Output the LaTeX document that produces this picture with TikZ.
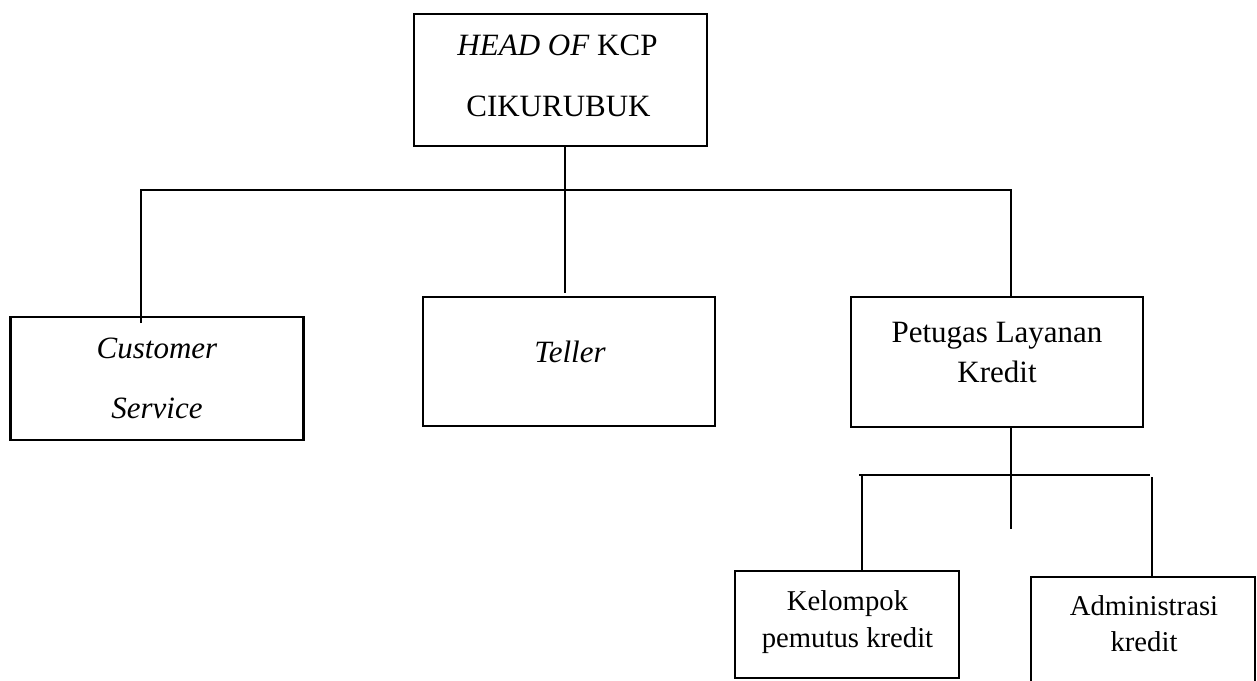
\documentclass[tikz,border=0pt]{standalone}
\usepackage{fontspec}
\setmainfont{Liberation Serif}
\begin{document}
\begin{tikzpicture}[x=1pt,y=-1pt,
  box/.style={draw, rectangle, line width=2.2pt, inner sep=0pt},
  conn/.style={line width=2.2pt},
  bigtxt/.style={anchor=base, inner sep=0pt, font=\fontsize{31}{37}\selectfont},
  smalltxt/.style={anchor=base, inner sep=0pt, font=\fontsize{28.7}{34}\selectfont}]
\useasboundingbox (0,0) rectangle (1257,680);

% boxes
\node[box, minimum width=293pt, minimum height=132pt] (head) at (560.5,80) {};
\node[box, minimum width=293pt, minimum height=123pt] (cs) at (157,378.5) {};
\node[box, minimum width=292pt, minimum height=129pt] (teller) at (569,361.5) {};
\node[box, minimum width=292pt, minimum height=130pt] (petugas) at (997,362) {};
\node[box, minimum width=224pt, minimum height=107pt] (kel) at (847,624.5) {};
\node[box, minimum width=224pt, minimum height=123pt] (admin) at (1143,638.5) {};

% texts
\node[bigtxt] (headA) at (557.5,55) {\textit{HEAD OF} KCP};
\node[bigtxt] (headB) at (558.5,116) {CIKURUBUK};
\node[bigtxt] (csA) at (157,358) {\textit{Customer}};
\node[bigtxt] (csB) at (157,418) {\textit{Service}};
\node[bigtxt] (tellerA) at (570,362) {\textit{Teller}};
\node[bigtxt] (petA) at (997,342) {Petugas Layanan};
\node[bigtxt] (petB) at (997,382) {Kredit};
\node[smalltxt] (kelA) at (847.5,610) {Kelompok};
\node[smalltxt] (kelB) at (847.5,647) {pemutus kredit};
\node[smalltxt] (adminA) at (1144,615) {Administrasi};
\node[smalltxt] (adminB) at (1144,651) {kredit};

% junction coordinates
\coordinate (hx) at (565,190);
\coordinate (tend) at (565,293);
\coordinate (hl) at (141,190);
\coordinate (hr) at (1011,190);
\coordinate (csin) at (141,323);
\coordinate (pb) at (1011,529);
\coordinate (bl) at (859,475);
\coordinate (br) at (1150,475);
\coordinate (kl) at (862,475);
\coordinate (kr) at (1152,477);

% connectors
\draw[conn] (head.south -| hx) -- (tend);
\draw[conn] (csin) -- (hl) -- (hr) -- (hr |- petugas.north);
\draw[conn] (petugas.south -| pb) -- (pb);
\draw[conn] (bl) -- (br);
\draw[conn] (kl) -- (kl |- kel.north);
\draw[conn] (kr) -- (kr |- admin.north);
\end{tikzpicture}
\end{document}
